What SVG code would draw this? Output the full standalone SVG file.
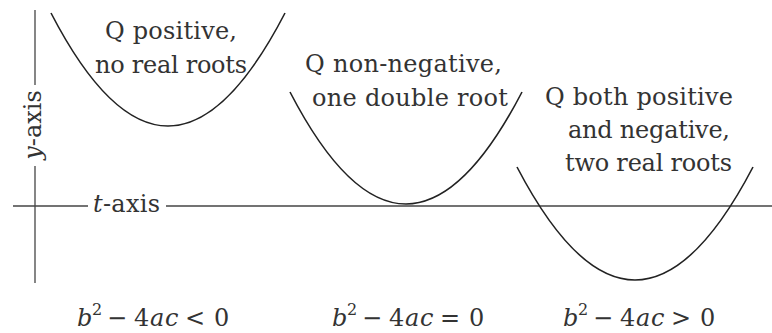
<svg xmlns="http://www.w3.org/2000/svg" width="772" height="333" viewBox="0 0 772 333">
<style>
text{font-family:'DejaVu Serif','Liberation Serif',serif;font-size:24px;fill:#333}
.it{font-style:italic}
.sup{font-size:16px}
.curve{fill:none;stroke:#222;stroke-width:1.6}
.axis{fill:none;stroke:#444;stroke-width:1.3}
</style>
<rect width="772" height="333" fill="#fff"/>
<g id="axes">
<line class="axis" x1="35" y1="10" x2="35" y2="85"/>
<line class="axis" x1="35" y1="166" x2="35" y2="283"/>
<line class="axis" x1="13" y1="206" x2="88" y2="206"/>
<line class="axis" x1="166" y1="206" x2="772" y2="206"/>
<text transform="translate(41,125) rotate(-90)" text-anchor="middle"><tspan class="it">y</tspan>-axis</text>
<text x="93" y="212" textLength="67"><tspan class="it">t</tspan>-axis</text>
</g>
<g id="case-negative">
<path class="curve" d="M51,13 Q168,239 285,13"/>
<text x="105" y="39" textLength="132">Q positive,</text>
<text x="95" y="73" textLength="152">no real roots</text>
<text x="77" y="326"><tspan class="it">b</tspan><tspan class="sup" x="92" dy="-11">2</tspan><tspan x="107" dy="11">−</tspan><tspan x="134">4</tspan><tspan class="it" x="150">a</tspan><tspan class="it" x="165">c</tspan><tspan x="185">&lt;</tspan><tspan x="214">0</tspan></text>
</g>
<g id="case-zero">
<path class="curve" d="M290,92 Q406,316 522,92"/>
<text x="305" y="72" textLength="197">Q non-negative,</text>
<text x="312" y="106" textLength="196">one double root</text>
<text x="332" y="326"><tspan class="it">b</tspan><tspan class="sup" x="347" dy="-11">2</tspan><tspan x="362" dy="11">−</tspan><tspan x="389">4</tspan><tspan class="it" x="405">a</tspan><tspan class="it" x="420">c</tspan><tspan x="440">=</tspan><tspan x="469">0</tspan></text>
</g>
<g id="case-positive">
<path class="curve" d="M517,167 Q635,393 753,167"/>
<text x="545" y="105" textLength="188">Q both positive</text>
<text x="568" y="138" textLength="162">and negative,</text>
<text x="565" y="171" textLength="167">two real roots</text>
<text x="563" y="326"><tspan class="it">b</tspan><tspan class="sup" x="578" dy="-11">2</tspan><tspan x="593" dy="11">−</tspan><tspan x="620">4</tspan><tspan class="it" x="636">a</tspan><tspan class="it" x="651">c</tspan><tspan x="671">&gt;</tspan><tspan x="700">0</tspan></text>
</g>
</svg>
